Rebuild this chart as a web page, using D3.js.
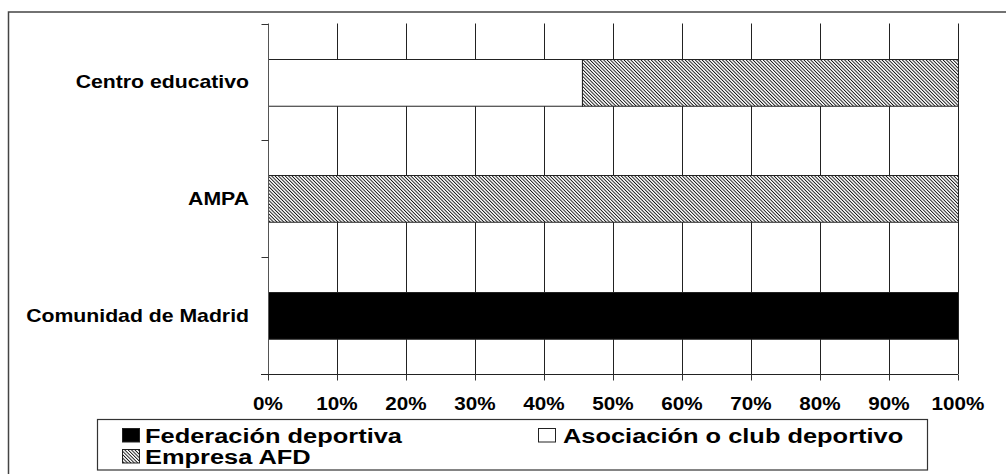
<!DOCTYPE html>
<html>
<head>
<meta charset="utf-8">
<script src="https://cdn.jsdelivr.net/npm/d3@7"></script>
<style>
   body { margin: 0; background: #fff; }
   text { font-family: "Liberation Sans", Arial, sans-serif; font-weight: bold; fill: #000; }
</style>
</head>
<body>
<div id="chart"></div>
<script>

// CATEGORIES, TOP TO BOTTOM
var categories = ['Centro educativo', 'AMPA', 'Comunidad de Madrid'];

// SERIES VALUES (PERCENT OF ROW)
var federacion = [0, 0, 100];
var asociacion = [45.5, 0, 0];
var empresa = [54.5, 100, 0];

// SERIES NAMES
var seriesNames = ['Federación deportiva', 'Asociación o club deportivo', 'Empresa AFD'];

// TICK LABELS
var tickValues = [0, 10, 20, 30, 40, 50, 60, 70, 80, 90, 100];

// CANVAS
var width = 1006, height = 474;
var svg = d3.select('#chart').append('svg')
   .attr('width', width)
   .attr('height', height)

// HATCH PATTERN FOR EMPRESA AFD -- FINE DIAGONAL LINES
var defs = svg.append('defs');
defs.append('pattern')
   .attr('id', 'hatch')
   .attr('patternUnits', 'userSpaceOnUse')
   .attr('width', 2.4)
   .attr('height', 2.4)
   .attr('patternTransform', 'rotate(-45)')
   .call(p => {
      p.append('rect').attr('width', 2.4).attr('height', 2.4).attr('fill', '#fff')
      p.append('rect').attr('width', 0.9).attr('height', 2.4).attr('fill', '#111')
   })

// FILLS PER SERIES
var fills = ['#000', '#fff', 'url(#hatch)'];

// OUTER FRAME (RUNS OFF THE RIGHT AND BOTTOM EDGE)
svg.append('rect')
   .attr('x', 8.5)
   .attr('y', 12)
   .attr('width', 1000)
   .attr('height', 480)
   .attr('fill', 'none')
   .attr('stroke', '#444')
   .attr('stroke-width', 1.5)

// SCALES
var xScale = d3.scaleLinear()
   .domain([0, 100])
   .range([268, 958])

var yScale = d3.scaleBand()
   .domain(categories)
   .range([23.5, 374])
   .paddingInner(0.6)
   .paddingOuter(0.3)

// HORIZONTALLY STRETCHED TEXT HELPER
function stretched(sel, x, y, size, sx, anchor, str) {
   return sel.append('text')
      .attr('transform', 'translate(' + x + ',' + y + ') scale(' + sx + ',1)')
      .attr('text-anchor', anchor)
      .style('font-size', size + 'px')
      .text(str)
}

// VERTICAL GRID LINES
svg.append('g')
   .selectAll('line')
   .data(tickValues.slice(1))
   .enter().append('line')
      .attr('x1', d => Math.round(xScale(d)) + 0.5)
      .attr('x2', d => Math.round(xScale(d)) + 0.5)
      .attr('y1', 23.5)
      .attr('y2', 374)
      .attr('stroke', '#222')

// STACKED DATA
var rows = categories.map((c, i) => ({ cat: c, f: federacion[i], a: asociacion[i], e: empresa[i] }));
var stacked = d3.stack().keys(['f', 'a', 'e'])(rows);

// BARS
stacked.forEach((layer, k) => {
   svg.append('g')
      .selectAll('rect')
      .data(layer.filter(d => d[1] - d[0] > 0))
      .enter().append('rect')
         .attr('x', d => xScale(d[0]) + 0.5)
         .attr('y', d => Math.round(yScale(d.data.cat)) + 0.5)
         .attr('width', d => xScale(d[1]) - xScale(d[0]))
         .attr('height', yScale.bandwidth())
         .attr('fill', fills[k])
         .attr('stroke', '#222')
         .attr('stroke-width', 1)
});

// LEFT AXIS
var yAxisG = svg.append('g').attr('transform', 'translate(268.5,0)');
yAxisG.append('line')
   .attr('y1', 23.5).attr('y2', 374)
   .attr('stroke', '#555')
var boundaries = [23.5].concat(categories.map(c => yScale(c) - yScale.step() * yScale.paddingInner() / 2 + yScale.step()));
yAxisG.selectAll('line.tick')
   .data(boundaries)
   .enter().append('line')
      .attr('class', 'tick')
      .attr('x1', -7).attr('x2', 0)
      .attr('y1', d => Math.round(d) + 0.5)
      .attr('y2', d => Math.round(d) + 0.5)
      .attr('stroke', '#333')

// CATEGORY LABELS
categories.forEach(c => {
   stretched(svg, 249, yScale(c) + yScale.bandwidth() / 2 + 6.5, 18, 1.18, 'end', c)
});

// BOTTOM AXIS
var xAxis = d3.axisBottom(xScale)
   .tickValues(tickValues)
   .tickSize(6)
   .tickFormat('')
var xAxisG = svg.append('g')
   .attr('transform', 'translate(0,374.5)')
   .call(xAxis)
xAxisG.select('.domain').attr('d', 'M261,0H958').attr('stroke', '#222')
xAxisG.selectAll('.tick line').attr('stroke', '#333')

// TICK LABELS
tickValues.forEach(v => {
   stretched(svg, xScale(v), 410, 17.5, 1.18, 'middle', v + '%')
});

// LEGEND BOX
svg.append('rect')
   .attr('x', 97.5)
   .attr('y', 419.5)
   .attr('width', 830)
   .attr('height', 50.5)
   .attr('fill', '#fff')
   .attr('stroke', '#333')
   .attr('stroke-width', 1.2)

// LEGEND ENTRIES
var legendPos = [
   { mx: 122, tx: 145, y: 443 },
   { mx: 538, tx: 563, y: 443 },
   { mx: 122, tx: 145, y: 464 }
];
seriesNames.forEach((name, i) => {
   var p = legendPos[i];
   svg.append('rect')
      .attr('x', p.mx + 0.5)
      .attr('y', p.y - 14.5)
      .attr('width', 17)
      .attr('height', 13.5)
      .attr('fill', fills[i])
      .attr('stroke', '#222')
   stretched(svg, p.tx, p.y, 20.5, 1.24, 'start', name)
});

</script>
</body>
</html>
